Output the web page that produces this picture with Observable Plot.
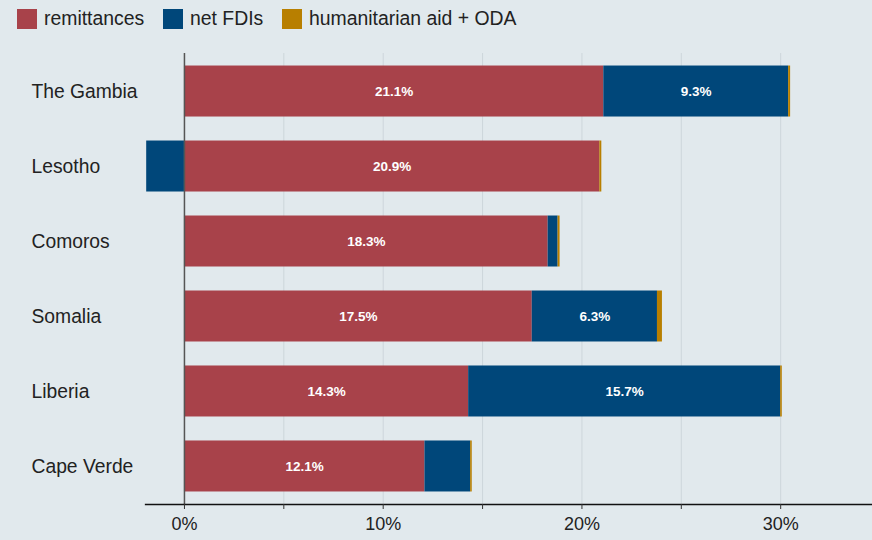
<!DOCTYPE html>
<html>
<head>
<meta charset="utf-8">
<script src="https://cdn.jsdelivr.net/npm/d3@7"></script>
<script src="https://cdn.jsdelivr.net/npm/@observablehq/plot@0.6"></script>
<style>
  html, body { margin: 0; padding: 0; background: #e1e9ed; }
  body { width: 872px; height: 540px; overflow: hidden; font-family: "Liberation Sans", Arial, sans-serif; }
  #legend { height: 36px; position: relative; }
  #chart svg { display: block; }
  .sw { position: absolute; top: 9px; width: 20px; height: 20px; }
  .lb { position: absolute; top: 6px; font-size: 19.4px; color: #222; line-height: 24px; white-space: nowrap; }
</style>
</head>
<body>
<div id="legend"></div>
<div id="chart"></div>
<script>
const countries = ["The Gambia", "Lesotho", "Comoros", "Somalia", "Liberia", "Cape Verde"];
const seriesNames = ["remittances", "net FDIs", "humanitarian aid + ODA"];
const remittances = [21.1, 20.9, 18.3, 17.5, 14.3, 12.1];
const netFDIs = [9.3, -1.9, 0.5, 6.3, 15.7, 2.3];
const aidODA = [0.1, 0.1, 0.1, 0.25, 0.08, 0.08];
const xTicks = [0, 5, 10, 15, 20, 25, 30];
const colors = ["#a8424a", "#00477a", "#b87f00"];

const seriesValues = [remittances, netFDIs, aidODA];
const data = [];
seriesNames.forEach((s, si) => {
  countries.forEach((c, ci) => data.push({country: c, series: s, value: seriesValues[si][ci]}));
});

// legend
const legend = document.getElementById("legend");
const legendPos = [[17, 44], [163, 190], [282, 309]];
seriesNames.forEach((s, i) => {
  const sw = document.createElement("div");
  sw.className = "sw"; sw.style.left = legendPos[i][0] + "px"; sw.style.background = colors[i];
  const lb = document.createElement("div");
  lb.className = "lb"; lb.style.left = legendPos[i][1] + "px"; lb.textContent = s;
  legend.appendChild(sw); legend.appendChild(lb);
});

const chart = Plot.plot({
  width: 872,
  height: 504,
  marginLeft: 145,
  marginRight: 0,
  marginTop: 17,
  marginBottom: 36,
  style: {background: "#e1e9ed", fontFamily: "Liberation Sans, Arial, sans-serif", color: "#222"},
  x: {domain: [-1.96, 34.62]},
  y: {domain: countries, paddingInner: 0.32, paddingOuter: 0.167, round: false, axis: null},
  color: {domain: seriesNames, range: colors},
  marks: [
    Plot.gridX(xTicks, {stroke: "#cdd6db", strokeOpacity: 1}),
    Plot.barX(data, Plot.stackX({x: "value", y: "country", fill: "series", order: null})),
    Plot.text(data, Plot.stackX({
      x: "value", y: "country", z: "series", order: null,
      text: d => d.value >= 3 ? d.value.toFixed(1) + "%" : null,
      fill: "white", fontWeight: "bold", fontSize: 13.5
    })),
    Plot.ruleX([0], {stroke: "#555", strokeWidth: 1.5}),
    Plot.text(countries, {y: d => d, text: d => d, frameAnchor: "left", textAnchor: "start", dx: -114, fontSize: 19.3, fill: "#222"}),
    Plot.frame({anchor: "bottom", stroke: "#111", strokeWidth: 1.3}),
    Plot.axisX({ticks: xTicks, tickFormat: d => d % 10 === 0 ? d + "%" : "", tickSize: 5, tickPadding: 8, fontSize: 18, stroke: "#333", fill: "#222", label: null})
  ]
});
document.getElementById("chart").appendChild(chart);
</script>
</body>
</html>
